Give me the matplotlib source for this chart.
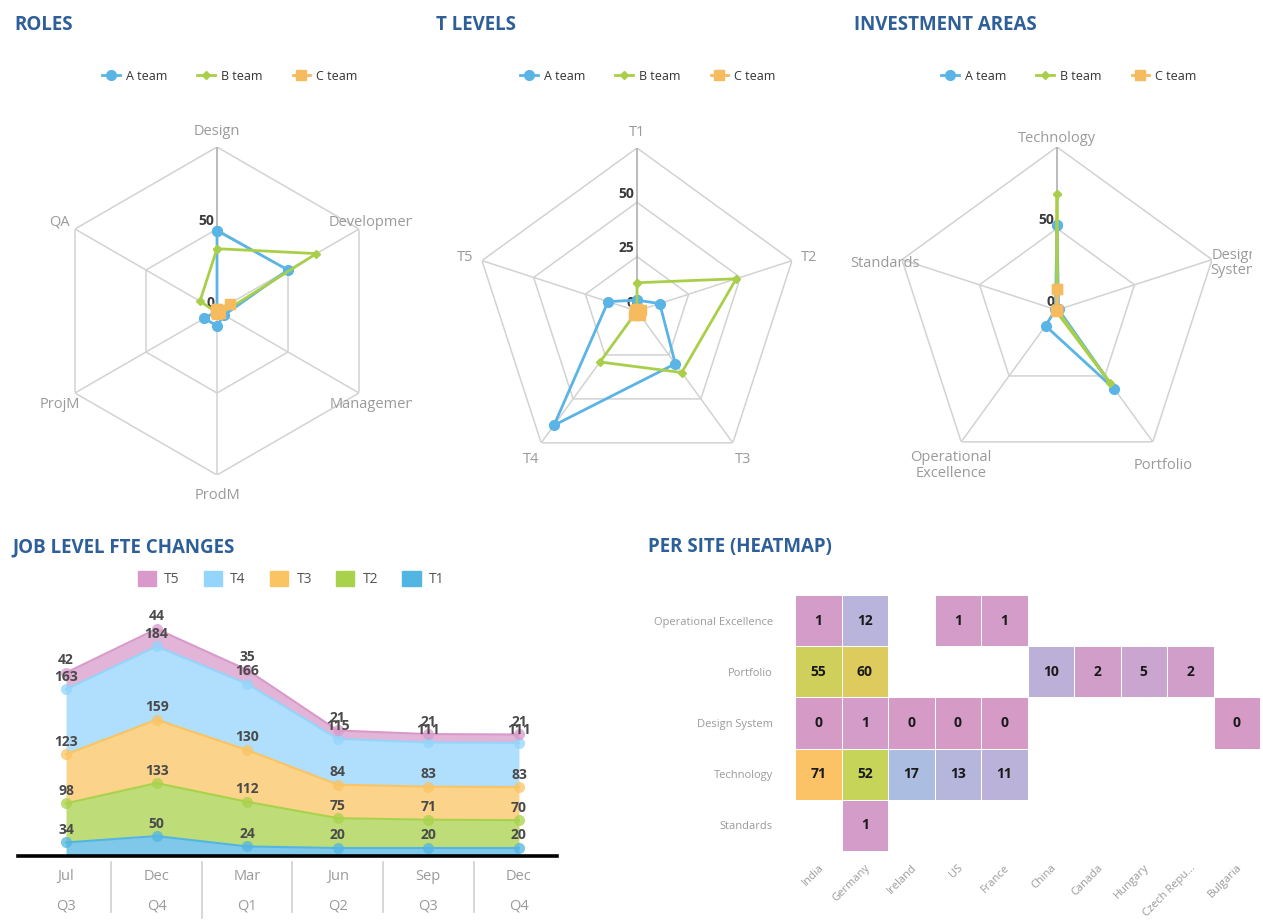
import numpy as np
import matplotlib
matplotlib.use("Agg")
import matplotlib.pyplot as plt
from matplotlib.lines import Line2D
from matplotlib.patches import Patch
from matplotlib.colors import LinearSegmentedColormap, Normalize
from matplotlib.transforms import Bbox, TransformedBbox

# ---------------- DATA ----------------
teams = ["A team", "B team", "C team"]

roles_cats = ["Design", "Development", "Management", "ProdM", "ProjM", "QA"]
roles_a = [49, 50, 5, 9, 9, 0]
roles_b = [38, 70, 3, 2, 1, 12]
roles_c = [1, 9, 2, 2, 1, 1]

tlev_cats = ["T1", "T2", "T3", "T4", "T5"]
tlev_a = [5, 11, 30, 65, 14]
tlev_b = [13, 48, 35, 29, 0]
tlev_c = [1, 2, 2, 2, 1]

inv_cats = ["Technology", "Design\nSystem", "Portfolio", "Operational\nExcellence", "Standards"]
inv_a = [52, 1, 60, 12, 1]
inv_b = [71, 0, 55, 1, 0]
inv_c = [13, 0, 0, 1, 0]

periods = ["Jul", "Dec", "Mar", "Jun", "Sep", "Dec"]
quarters = ["Q3", "Q4", "Q1", "Q2", "Q3", "Q4"]
fte_t1 = [34, 50, 24, 20, 20, 20]
fte_t2 = [98, 133, 112, 75, 71, 70]
fte_t3 = [123, 159, 130, 84, 83, 83]
fte_t4 = [163, 184, 166, 115, 111, 111]
fte_t5 = [42, 44, 35, 21, 21, 21]

sites = ["India", "Germany", "Ireland", "US", "France", "China", "Canada",
         "Hungary", "Czech Repu\u2026", "Bulgaria"]
areas = ["Operational Excellence", "Portfolio", "Design System", "Technology", "Standards"]
heat_opex = [1, 12, None, 1, 1, None, None, None, None, None]
heat_portfolio = [55, 60, None, None, None, 10, 2, 5, 2, None]
heat_design = [0, 1, 0, 0, 0, None, None, None, None, 0]
heat_tech = [71, 52, 17, 13, 11, None, None, None, None, None]
heat_standards = [None, 1, None, None, None, None, None, None, None, None]

# ---------------- STYLE ----------------
W, H = 1263, 924
fig = plt.figure(figsize=(W / 100, H / 100), dpi=100)
FONT = ["Open Sans", "DejaVu Sans"]
plt.rcParams["font.family"] = FONT
TITLE_C = "#2e5f98"
BLUE, GREEN, ORANGE = "#5ab4e5", "#a9cf4a", "#f7bb5f"
team_colors = [BLUE, GREEN, ORANGE]
team_markers = ["o", "D", "s"]
team_ms = [7, 4.5, 7.5]
GRID = "#d2d2d2"
LBL = "#9a9a9a"


def px_axes(l, t, w, h, **kw):
    return fig.add_axes([l / W, 1 - (t + h) / H, w / W, h / H], **kw)


def title(x, y, s):
    fig.text(x / W, 1 - y / H, s, color=TITLE_C, fontsize=13.5, fontweight="bold",
             va="center", ha="left")


def radar(cx, cy, R, cats, series, rmax, rings, ring_labels, legend_cx,
          clips=None, lab_dy=0.0, lab_r=1.11):
    ax = px_axes(cx - R, cy - R, 2 * R, 2 * R, projection="polar")
    ax.set_theta_zero_location("N")
    ax.set_theta_direction(-1)
    ax.set_ylim(0, rmax)
    ax.axis("off")
    n = len(cats)
    ang = np.linspace(0, 2 * np.pi, n, endpoint=False)
    angc = np.append(ang, ang[0])
    for rv in rings:
        ax.plot(angc, [rv] * (n + 1), color=GRID, lw=1.1, zorder=1)
    for i, a in enumerate(ang):
        ax.plot([a, a], [0, rmax], color="#a8a8a8" if i == 0 else GRID, lw=1.1, zorder=1)
    for lab, rv in ring_labels:
        ax.annotate(lab, (0, rv), xytext=(-2, 1), textcoords="offset points",
                    ha="right", va="bottom", fontsize=10, fontweight="bold", color="#3a3a3a")
    handles = []
    for k, vals in enumerate(series):
        v = np.append(np.asarray(vals, float), vals[0])
        ax.plot(angc, v, color=team_colors[k], lw=2, marker=team_markers[k],
                ms=team_ms[k], zorder=3 + k, clip_on=False)
        handles.append(Line2D([], [], color=team_colors[k], lw=2, marker=team_markers[k],
                              ms=team_ms[k]))
    for i, (a, c) in enumerate(zip(ang, cats)):
        dx = 0
        if clips and i in clips:
            dx = clips[i][2]
        t = ax.annotate(c, (a, rmax * lab_r), xytext=(dx, lab_dy), textcoords="offset points",
                        ha="center", va="center", fontsize=10.5, color=LBL,
                        linespacing=1.05, annotation_clip=False)
        t.set_clip_path(None)
        if clips and i in clips:
            x0, x1, _ = clips[i]
            t.set_clip_box(TransformedBbox(Bbox([[x0 / W, 0], [x1 / W, 1]]), fig.transFigure))
            t.set_clip_on(True)
    fig.legend(handles, teams, loc="center", bbox_to_anchor=(legend_cx / W, 1 - 76 / H),
               ncol=3, frameon=False, fontsize=9, handlelength=1.4, handletextpad=0.5,
               columnspacing=2.4, labelcolor="#333333")
    return ax


# ---------------- RADARS ----------------
title(14, 25, "ROLES")
radar(217, 311, 164, roles_cats, [roles_a, roles_b, roles_c], 100, [50, 100],
      [("50", 50), ("0", 0)], 230, clips={1: (0, 412, 0), 2: (0, 412, 0)}, lab_dy=-1.5)

title(436, 25, "T LEVELS")
radar(637, 311, 163, tlev_cats, [tlev_a, tlev_b, tlev_c], 75, [25, 50, 75],
      [("50", 50), ("25", 25), ("0", 0)], 648, lab_dy=-1.5)

title(854, 25, "INVESTMENT AREAS")
radar(1057, 310, 163, inv_cats, [inv_a, inv_b, inv_c], 100, [50, 100],
      [("50", 50), ("0", 0)], 1069, clips={1: (0, 1252, 4)}, lab_dy=-6.5)

# ---------------- STACKED AREA ----------------
title(12, 547, "JOB LEVEL FTE CHANGES")
ax = px_axes(18, 601, 539, 255)
layers = [fte_t1, fte_t2, fte_t3, fte_t4, fte_t5]
names = ["T1", "T2", "T3", "T4", "T5"]
base_cols = ["#52b5e2", "#a8d24b", "#fbc462", "#93d5fb", "#d99acb"]
x = np.arange(len(periods))
cum = np.zeros(len(periods))
for vals, col in zip(layers, base_cols):
    top = cum + np.asarray(vals, float)
    ax.fill_between(x, cum, top, color=col, alpha=0.74, lw=0, zorder=2)
    ax.plot(x, top, color=col, lw=1.5, zorder=3)
    ax.plot(x, top, "o", color=col, ms=8, alpha=0.75, mec="none", zorder=4)
    for xi, yi, v in zip(x, top, vals):
        ax.annotate(str(v), (xi, yi), xytext=(0, 4), textcoords="offset points",
                    ha="center", va="bottom", fontsize=10, fontweight="bold",
                    color="#4a4a4a", zorder=6)
    cum = top
ax.set_xlim(-0.53, 5.42)
ax.set_ylim(0, 640)
ax.axhline(0, color="black", lw=2.6, zorder=7, clip_on=False)
for s in ax.spines.values():
    s.set_visible(False)
ax.set_xticks([])
ax.set_yticks([])
xt = ax.get_xaxis_transform()
for i, (p, q) in enumerate(zip(periods, quarters)):
    ax.text(i, -0.082, p, transform=xt, ha="center", va="center", fontsize=10.5, color=LBL)
    ax.text(i, -0.195, q, transform=xt, ha="center", va="center", fontsize=10.5, color=LBL)
for i in range(len(periods) - 1):
    ax.plot([i + 0.5, i + 0.5], [-0.025, -0.245 if i == 1 else -0.22], transform=xt,
            color="#cfcfcf", lw=1.2, clip_on=False)
leg_handles = [Patch(color=c) for c in base_cols[::-1]]
fig.legend(leg_handles, names[::-1], loc="center", bbox_to_anchor=(291 / W, 1 - 579 / H),
           ncol=5, frameon=False, fontsize=10, handlelength=1.3, handleheight=1.3,
           handletextpad=0.6, columnspacing=1.75, labelcolor="#555555")

# ---------------- HEATMAP ----------------
title(648, 547, "PER SITE (HEATMAP)")
hx = px_axes(795, 595, 465, 256)
rows = [heat_opex, heat_portfolio, heat_design, heat_tech, heat_standards]
Z = np.array([[np.nan if v is None else v for v in r] for r in rows], float)
cmap = LinearSegmentedColormap.from_list(
    "site", [(0.0, "#d69ac7"), (0.14, "#bdb0d8"), (0.24, "#abbde1"),
             (0.73, "#c6d45a"), (0.845, "#ddcb5e"), (1.0, "#fbc266")])
cmap.set_bad((1, 1, 1, 0))
hx.pcolormesh(np.ma.masked_invalid(Z), cmap=cmap, norm=Normalize(0, 71),
              edgecolors="white", linewidth=0.6)
hx.set_xlim(0, len(sites))
hx.set_ylim(len(areas), 0)
for i in range(Z.shape[0]):
    for j in range(Z.shape[1]):
        if not np.isnan(Z[i, j]):
            hx.text(j + 0.5, i + 0.5, f"{int(Z[i, j])}", ha="center", va="center",
                    fontsize=10, fontweight="bold", color="#1a1a1a")
for s in hx.spines.values():
    s.set_visible(False)
hx.set_yticks(np.arange(len(areas)) + 0.5)
hx.set_yticklabels(areas, fontsize=8, color=LBL)
hx.set_xticks(np.arange(len(sites)) + 0.5)
hx.set_xticklabels(sites, fontsize=8, color=LBL, rotation=45, ha="right",
                   rotation_mode="anchor")
hx.tick_params(length=0, pad=16, axis="y")
hx.tick_params(length=0, pad=8, axis="x")

fig.savefig("out.png", dpi=100)
